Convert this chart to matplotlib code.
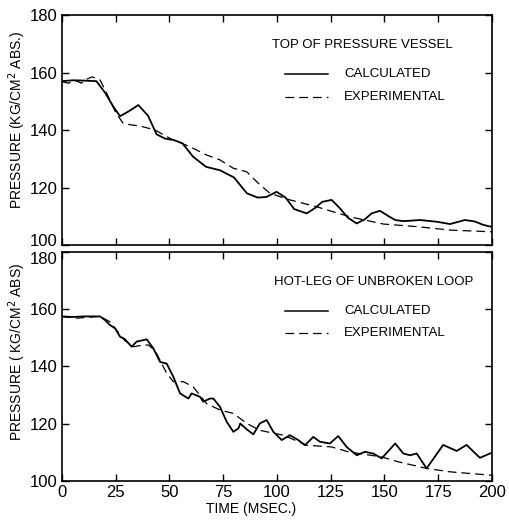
import numpy as np
from matplotlib import pyplot as plt
from matplotlib import transforms

plt.rcParams['font.family'] = ['Liberation Sans', 'DejaVu Sans']

# Top of pressure vessel
t_top_calc = [0, 5, 10, 16, 20, 24, 27, 31, 35.5, 40, 44, 48, 52, 56, 61, 67, 73.5, 80, 86, 91,
              95, 99.8, 104, 108, 113.8, 118, 121, 125.4, 129, 133, 137.1, 141, 144, 147.9, 152,
              155, 158.8, 166.5, 174.3, 180.5, 184, 187.4, 192, 196, 200]
p_top_calc = [157, 157.3, 157.2, 157, 153, 148, 144.8, 146.5, 148.7, 145, 138.5, 137, 136.5, 135.4,
              130.7, 127.2, 126, 123.5, 118, 116.5, 116.7, 118.5, 116.5, 112.5, 111, 113, 115, 115.7,
              113, 109.5, 107.5, 109, 111, 111.9, 110, 108.7, 108.3, 108.7, 108.1, 107.3, 108, 108.7,
              108.2, 107, 106.3]
t_top_exp = [0, 3, 6, 9, 11, 14, 17.7, 20, 22.3, 25, 28.5, 32, 36.3, 43.3, 50.2, 54.9, 59.5, 67.3,
             73.5, 79.7, 85.9, 91.3, 96.7, 106, 118.5, 134, 149.5, 165, 180.5, 200]
p_top_exp = [156.8, 156.3, 157.3, 156.3, 157.5, 158.5, 157.4, 154, 150.4, 146, 142.3, 141.8, 141.4,
             140, 137.1, 135.6, 134.2, 131.3, 129.6, 126.7, 125.5, 121.5, 118, 115.7, 113.3, 109.8,
             107.3, 106.4, 105.2, 104.6]

# Hot-leg of unbroken loop
t_hot_calc = [0, 5, 10, 17.7, 20, 22.3, 24.7, 27, 29.3, 32.4, 34.7, 37.8, 39.4, 42.5, 45.6, 48.7,
              51.8, 54.9, 58.8, 60.3, 64.2, 65.7, 68.8, 70.4, 73.5, 76.6, 79.7, 82.1, 82.9, 86, 89,
              92, 95.2, 98.3, 102.2, 106, 109.9, 113, 116.9, 120, 124.6, 128.5, 132.4, 137.1, 140.9,
              144.8, 148.7, 155, 158.8, 161.9, 165, 169.6, 177.3, 183.6, 188.2, 194.4, 200]
p_hot_calc = [157.5, 157.3, 157.5, 157.5, 156.2, 154.5, 153.3, 150.4, 149.5, 146.9, 148.7, 149.2,
              149.5, 146.3, 141.6, 141, 136.4, 130.6, 128.8, 130.6, 129.4, 127.7, 128.8, 128.8,
              125.9, 120.7, 117.2, 118.4, 120.1, 118, 116.3, 120.1, 121.3, 117.2, 114.3, 116, 114.3,
              112.5, 115.4, 113.7, 113.1, 115.7, 111.9, 109, 110.2, 109.6, 107.9, 113.1, 109.6, 109,
              109.6, 104.4, 112.6, 110.5, 112.6, 108.1, 109.9]
t_hot_exp = [0, 7, 17.7, 22.3, 29.3, 33.2, 37.8, 40.1, 43.2, 48.7, 51.8, 56.4, 61, 67.3, 73.5, 79.7,
             86, 92, 95.2, 103, 113.8, 125.4, 133.2, 148.7, 156.4, 169.6, 180.5, 200]
p_hot_exp = [157.4, 156.9, 157.5, 155.6, 149, 146.9, 147.5, 147.5, 145.7, 137.6, 134.7, 134.7, 132.9,
             127, 124.8, 123.6, 120.1, 117.7, 117.2, 116, 112.5, 111.9, 110.2, 108.4, 106.7, 104.4,
             103.2, 102]

x_ticks = [0, 25, 50, 75, 100, 125, 150, 175, 200]
y_ticks = [100, 120, 140, 160, 180]

fig = plt.figure(figsize=(5.1, 5.2), dpi=100)
ax_top = fig.add_axes([0.1216, 0.5288, 0.843, 0.4423])
ax_bot = fig.add_axes([0.1216, 0.075, 0.843, 0.4404])

panels = [
    (ax_top, t_top_calc, p_top_calc, t_top_exp, p_top_exp, "TOP OF PRESSURE VESSEL", 0.698,
     "PRESSURE (KG/CM$^2$ ABS.)", 0.543),
    (ax_bot, t_hot_calc, p_hot_calc, t_hot_exp, p_hot_exp, "HOT-LEG OF UNBROKEN LOOP", 0.724,
     "PRESSURE ( KG/CM$^2$ ABS)", 0.563),
]

for ax, tc, pc, te, pe, title, tx, ylab, ly in panels:
    ax.plot(tc, pc, color='black', lw=1.3)
    ax.plot(te, pe, color='black', lw=0.9, dashes=(7, 4))
    ax.set_xlim(0, 200)
    ax.set_ylim(100, 180)
    ax.set_xticks(x_ticks)
    ax.set_yticks(y_ticks)
    ax.tick_params(direction='in', top=True, right=True, length=5, width=1,
                   labelsize=12, pad=3)
    for s in ax.spines.values():
        s.set_linewidth(1.2)
    ax.set_ylabel(ylab, fontsize=10)
    ax.yaxis.set_label_coords(-0.079, ly)
    ax.text(tx, 0.87, title, transform=ax.transAxes, ha='center', va='center', fontsize=9.5)
    # key lines drawn inside the axes
    ax.plot([0.519, 0.619], [0.743, 0.743], transform=ax.transAxes, color='black', lw=1.1)
    ax.plot([0.519, 0.619], [0.645, 0.645], transform=ax.transAxes, color='black', lw=0.9,
            dashes=(7, 4))
    ax.text(0.656, 0.743, "CALCULATED", transform=ax.transAxes, va='center', fontsize=9.5)
    ax.text(0.656, 0.645, "EXPERIMENTAL", transform=ax.transAxes, va='center', fontsize=9.5)

ax_top.tick_params(labelbottom=False)
ax_bot.set_xlabel("TIME (MSEC.)", fontsize=10)
ax_bot.xaxis.set_label_coords(0.44, -0.09)

# nudge the 100 / 180 labels apart where the two panels meet
fig.canvas.draw()
lab_100 = ax_top.get_yticklabels()[0]
lab_100.set_transform(lab_100.get_transform() + transforms.ScaledTranslation(0, 5 / 100, fig.dpi_scale_trans))
lab_180 = ax_bot.get_yticklabels()[-1]
lab_180.set_transform(lab_180.get_transform() + transforms.ScaledTranslation(0, -6 / 100, fig.dpi_scale_trans))

plt.savefig("out.png", dpi=100)
